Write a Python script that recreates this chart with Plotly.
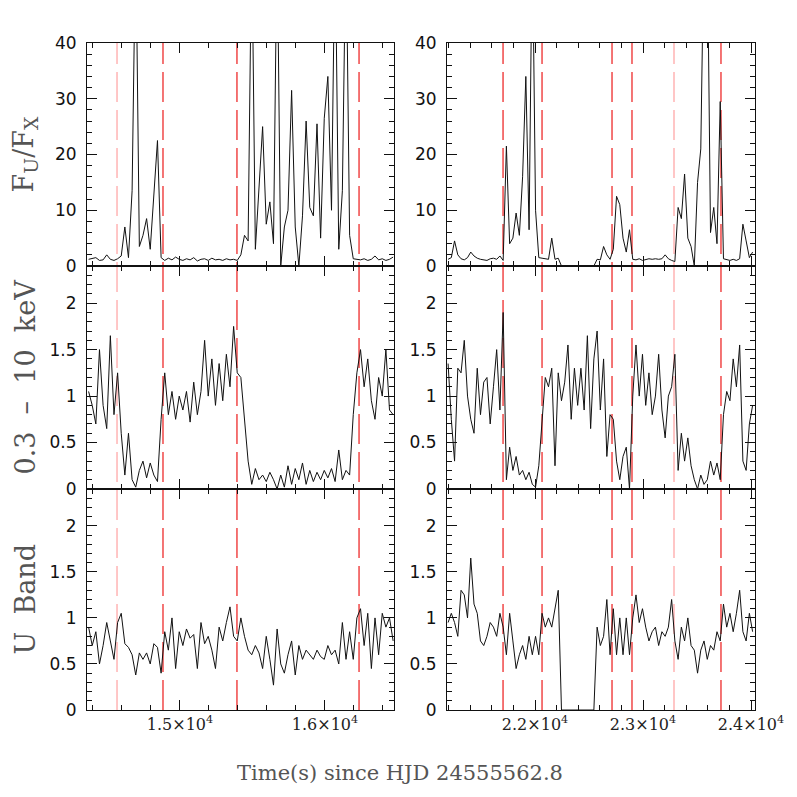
import plotly.graph_objects as go

# ---------------- data ----------------
LEFT_T0, LEFT_DT = 14370, 25      # time bins of the left column (s)
RIGHT_T0, RIGHT_DT = 21195, 30    # time bins of the right column (s)

left_ratio = [1.2, 1.3, 1.5, 1.0, 1.1, 2.0, 1.2, 1.0, 1.3, 1.8,
              7.0, 1.5, 13.5, 60, 3.5, 5.5, 8.5, 3.0, 13.5, 22.5,
              1.5, 1.0, 1.4, 1.1, 1.6, 1.2, 1.0, 1.3, 1.1, 1.5,
              0.9, 1.2, 1.3, 1.0, 1.4, 1.1, 1.2, 1.0, 1.3, 1.1,
              1.2, 1.0, 2.0, 5.5, 4.5, 60, 3.0, 15, 25, 7.5,
              11.5, 4.0, 60, 0.0, 7.0, 10, 31.5, 7.0, 0.0, 9.0,
              26, 10.5, 9.0, 25.5, 5.0, 26.5, 34, 10, 60, 3.0,
              13.5, 60, 5.5, 1.3, 1.2, 1.1, 1.3, 1.0, 1.2, 1.8,
              1.1, 1.3, 1.0, 1.2, 1.6]
left_xray = [1.05, 0.9, 0.7, 1.5, 0.9, 0.65, 1.65, 0.8, 1.25, 0.6,
             0.15, 0.6, 0.1, 0.02, 0.2, 0.3, 0.12, 0.28, 0.15, 0.08,
             0.75, 1.25, 0.8, 1.05, 0.75, 1.0, 0.85, 1.05, 0.72, 1.15,
             0.8, 1.05, 1.6, 1.0, 1.4, 0.9, 1.35, 0.95, 1.45, 1.1,
             1.75, 1.25, 1.2, 0.7, 0.3, 0.05, 0.22, 0.1, 0.15, 0.08,
             0.18, 0.1, 0.0, 0.15, 0.02, 0.25, 0.05, 0.22, 0.1, 0.28,
             0.05, 0.2, 0.08, 0.18, 0.1, 0.2, 0.12, 0.22, 0.08, 0.42,
             0.1, 0.2, 0.15, 0.8, 1.25, 1.5, 1.1, 1.4, 0.95, 0.75,
             1.2, 1.0, 1.5, 0.85, 0.8]
left_uband = [0.9, 0.7, 0.85, 0.5, 0.7, 0.95, 0.75, 0.55, 0.95, 1.05,
              0.72, 0.68, 0.6, 0.38, 0.62, 0.55, 0.62, 0.5, 0.72, 0.68,
              0.4, 0.85, 0.65, 1.0, 0.45, 0.85, 0.7, 0.88, 0.78, 0.82,
              0.45, 0.95, 0.72, 0.8, 0.65, 0.45, 0.9, 0.75, 0.95, 1.12,
              0.8, 0.75, 1.0, 0.8, 0.65, 0.6, 0.7, 0.62, 0.45, 0.8,
              0.55, 0.27, 0.88, 0.5, 0.4, 0.6, 0.75, 0.38, 0.7, 0.55,
              0.65, 0.6, 0.55, 0.65, 0.58, 0.55, 0.7, 0.6, 0.65, 0.5,
              0.95, 0.55, 0.85, 0.55, 1.0, 1.1, 0.7, 1.05, 0.45, 1.0,
              0.6, 1.05, 0.9, 1.0, 0.75]

right_ratio = [1.2, 1.5, 4.5, 2.0, 1.3, 1.1, 1.5, 2.5, 1.8, 1.4,
               1.2, 1.1, 1.0, 1.3, 1.4, 1.2, 1.8, 1.0, 21.5, 4.0,
               5.0, 9.5, 5.5, 16, 34, 6.5, 60, 10, 1.5, 1.4,
               1.3, 1.2, 5.0, 1.2, 1.4, 0, 0, 0, 0, 0,
               0, 0, 0, 0, 0, 0, 1.2, 1.1, 3.5, 2.0,
               1.2, 3.0, 12.5, 11, 5.0, 2.5, 6.5, 1.2, 1.1, 1.3,
               1.0, 1.2, 1.3, 1.2, 1.3, 1.2, 1.3, 2.0, 1.3, 1.0,
               0.8, 10.5, 8.5, 16.5, 5.0, 3.5, 0, 15, 21, 60,
               60, 6.0, 10.5, 4.0, 29.5, 1.3, 1.2, 1.0, 1.2, 1.0,
               1.3, 7.5, 4.5, 1.5, 2.5]
right_xray = [1.35, 0.75, 0.3, 1.3, 1.25, 1.6, 1.0, 0.75, 0.6, 1.3,
              0.8, 1.15, 1.2, 0.7, 1.1, 1.5, 0.85, 1.9, 0.1, 0.45,
              0.2, 0.35, 0.15, 0.2, 0.1, 0.18, 0.05, 0.02, 0.25, 0.7,
              1.2, 1.1, 1.3, 0.25, 1.25, 0.95, 1.15, 1.55, 0.75, 1.3,
              0.9, 1.3, 0.85, 1.65, 0.65, 1.4, 1.7, 0.85, 1.4, 0.35,
              0.8, 0.75, 0.3, 0.1, 0.35, 0.45, 0.0, 1.0, 1.55, 1.0,
              1.45, 0.9, 1.25, 0.8, 1.0, 1.45, 0.85, 0.55, 1.0, 1.1,
              1.45, 0.2, 0.6, 0.3, 0.55, 0.25, 0.1, 0.0, 0.15, 0.05,
              0.1, 0.3, 0.15, 0.28, 0.1, 0.8, 1.05, 0.95, 1.4, 1.1,
              1.55, 0.3, 0.2, 0.7, 0.9]
right_uband = [0.95, 1.05, 0.95, 0.8, 1.3, 1.25, 1.0, 1.65, 1.15, 1.05,
               0.75, 0.7, 0.8, 0.95, 0.9, 0.8, 1.05, 0.9, 0.6, 1.05,
               0.75, 0.45, 0.6, 0.7, 0.55, 0.8, 0.6, 0.8, 0.6, 1.05,
               0.9, 1.0, 0.9, 1.1, 1.3, 0, 0, 0, 0, 0,
               0, 0, 0, 0, 0, 0, 0.9, 0.7, 0.8, 1.2,
               0.6, 1.1, 0.6, 1.0, 0.6, 1.0, 0.6, 1.0, 1.25, 0.95,
               1.1, 0.9, 0.75, 0.85, 0.9, 0.7, 0.85, 0.8, 0.9, 1.2,
               0.75, 0.55, 0.9, 0.75, 1.0, 0.7, 0.65, 0.4, 0.65, 0.75,
               0.55, 0.7, 0.65, 0.85, 0.75, 1.15, 0.9, 1.05, 0.85, 1.05,
               1.3, 0.85, 0.75, 1.05, 0.85]

left_red_lines = [14883, 15393, 16235]
left_pink_lines = [14566]
right_red_lines = [21704, 22065, 22713, 22898, 23722]
right_pink_lines = [23287]

left_range = [14359, 16476]
right_range = [21185, 24037]
left_tickvals = [15000, 16000]
left_ticktext = ["1.5×10<sup>4</sup>", "1.6×10<sup>4</sup>"]
right_tickvals = [22000, 23000, 24000]
right_ticktext = ["2.2×10<sup>4</sup>", "2.3×10<sup>4</sup>", "2.4×10<sup>4</sup>"]

row_titles = ["F<sub>U</sub>/F<sub>X</sub>", "0.3  –  10  keV", "U  Band"]
x_title = "Time(s) since HJD 24555562.8"

# ---------------- layout geometry ----------------
# the page body has an 8 px margin; size the figure to fit the 797 px window
OFF = 8
W = H = 797 - 2 * OFF
def fx(px): return (px - OFF) / W
def fy(py): return 1 - (py - OFF) / H

xdom = [[fx(87), fx(394)], [fx(447), fx(755)]]
ydom = [[fy(266), fy(43)], [fy(489), fy(266)], [fy(710), fy(489)]]
yranges = [[0, 40], [0, 2.4], [0, 2.4]]
ydticks = [10, 0.5, 0.5]
yminor = [2, 0.1, 0.1]

RED = "#f04848"
PINK = "#ffb4b4"

fig = go.Figure()

cols = [
    dict(t0=LEFT_T0, dt=LEFT_DT, series=[left_ratio, left_xray, left_uband],
         rng=left_range, tv=left_tickvals, tt=left_ticktext,
         red=left_red_lines, pink=left_pink_lines),
    dict(t0=RIGHT_T0, dt=RIGHT_DT, series=[right_ratio, right_xray, right_uband],
         rng=right_range, tv=right_tickvals, tt=right_ticktext,
         red=right_red_lines, pink=right_pink_lines),
]

axis_common = dict(showline=True, linecolor="#111", linewidth=1, mirror="allticks",
                   ticks="inside", ticklen=10, tickwidth=1, tickcolor="#111",
                   showgrid=False, zeroline=False, automargin=False)

for c, col in enumerate(cols):
    for r in range(3):
        n = r * 2 + c + 1
        vals = col["series"][r]
        times = [col["t0"] + col["dt"] * k for k in range(len(vals))]
        fig.add_trace(go.Scatter(x=times, y=vals, mode="lines",
                                 line=dict(color="#111", width=1),
                                 xaxis=f"x{n}", yaxis=f"y{n}", showlegend=False,
                                 hoverinfo="skip"))
        fig.layout[f"xaxis{n}"] = dict(
            axis_common, domain=xdom[c], range=col["rng"], anchor=f"y{n}",
            tickmode="array", tickvals=col["tv"], ticktext=col["tt"],
            showticklabels=(r == 2),
            tickfont=dict(family="DejaVu Serif", size=16, color="#222"),
            minor=dict(ticks="inside", ticklen=5, tickcolor="#111",
                       tickmode="linear", tick0=0, dtick=200, showgrid=False))
        fig.layout[f"yaxis{n}"] = dict(
            axis_common, domain=ydom[r], range=yranges[r], anchor=f"x{n}",
            tickmode="linear", tick0=0, dtick=ydticks[r],
            tickfont=dict(family="DejaVu Sans", size=17, color="#111"),
            ticklabelstandoff=6,
            minor=dict(ticks="inside", ticklen=5, tickcolor="#111",
                       tickmode="linear", tick0=0, dtick=yminor[r], showgrid=False))

    # dashed vertical lines spanning all three panels of the column
    for lines, colr in ((col["red"], RED), (col["pink"], PINK)):
        for t in lines:
            fig.add_shape(type="line", xref=f"x{5 + c}", yref="paper",
                          x0=t, x1=t, y0=ydom[2][0], y1=ydom[0][1],
                          line=dict(color=colr, width=1.5, dash="30px,8px"),
                          layer="below")

# axis titles
title_font = dict(family="DejaVu Serif", size=27, color="#555")
for r, txt in enumerate(row_titles):
    fig.add_annotation(text=txt, xref="paper", yref="paper", x=fx(25),
                       y=(ydom[r][0] + ydom[r][1]) / 2, showarrow=False,
                       xanchor="center", yanchor="middle",
                       textangle=-90, font=title_font)
fig.add_annotation(text=x_title, xref="paper", yref="paper", x=fx(400), y=fy(773),
                   xanchor="center", yanchor="middle", showarrow=False,
                   font=dict(family="DejaVu Serif", size=21, color="#555"))

fig.update_layout(width=W, height=H,
                  margin=dict(l=0, r=0, t=0, b=0, pad=0, autoexpand=False),
                  paper_bgcolor="white", plot_bgcolor="white")

fig.write_html("out.html")
